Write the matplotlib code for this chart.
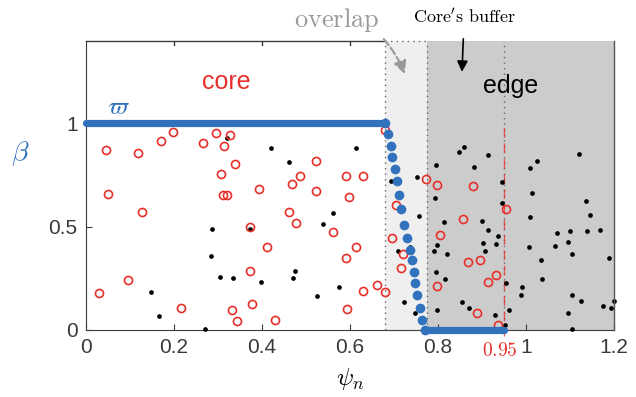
import numpy as np
import matplotlib
matplotlib.use('Agg')
import matplotlib.pyplot as plt

plt.rcParams['mathtext.fontset'] = 'cm'
plt.rcParams['font.family'] = ['Liberation Sans', 'DejaVu Sans']

# region bounds in psi_n
core_end = 0.68
edge_start = 0.775
buffer_psi = 0.95

# black dots (edge markers)
black_x = [0.320, 0.420, 0.286, 0.372, 0.284, 0.305, 0.335, 0.397, 0.148, 0.167, 0.270,
           0.613, 0.461, 0.693, 0.752, 0.795, 0.793, 0.757, 0.815, 0.562, 0.539,
           0.475, 0.470, 0.576, 0.526, 0.710, 0.798, 0.792, 0.820, 0.795, 0.816, 0.723, 0.749, 0.799, 0.736,
           0.859, 0.848, 0.914, 0.883, 1.026, 1.009, 1.121, 0.947, 1.015, 0.947, 1.138, 1.145, 1.009, 0.900,
           0.914, 0.936, 0.903, 0.932, 0.908, 1.071, 1.101, 1.139, 1.168, 1.095, 1.106, 1.066, 1.008, 1.034,
           1.189, 1.036, 0.954, 0.992, 0.989, 1.104, 1.125, 1.200, 1.176, 1.194, 0.855, 0.871, 0.962, 0.930,
           1.095, 1.105, 0.869, 0.952]
black_y = [0.929, 0.883, 0.491, 0.488, 0.356, 0.256, 0.253, 0.230, 0.182, 0.068, 0.006,
           0.883, 0.813, 0.721, 0.741, 0.797, 0.641, 0.552, 0.522, 0.564, 0.511,
           0.285, 0.250, 0.209, 0.164, 0.383, 0.411, 0.382, 0.370, 0.282, 0.245, 0.137, 0.084, 0.097, 0.400,
           0.886, 0.862, 0.845, 0.789, 0.816, 0.784, 0.853, 0.717, 0.665, 0.617, 0.623, 0.556, 0.547, 0.527,
           0.486, 0.456, 0.420, 0.415, 0.380, 0.467, 0.480, 0.477, 0.486, 0.427, 0.369, 0.407, 0.403, 0.340,
           0.346, 0.245, 0.229, 0.209, 0.167, 0.167, 0.139, 0.140, 0.116, 0.105, 0.135, 0.108, 0.097, 0.072,
           0.080, 0.006, 0.006, 0.026]

# red open circles (core markers)
red_x = [0.045, 0.118, 0.170, 0.198, 0.267, 0.295, 0.327, 0.314, 0.339, 0.308, 0.394, 0.051, 0.311, 0.321, 0.128,
         0.372, 0.411, 0.372, 0.095, 0.030, 0.217, 0.332, 0.378, 0.343, 0.430,
         0.523, 0.486, 0.469, 0.591, 0.631, 0.524, 0.598, 0.462, 0.477, 0.680, 0.774, 0.799, 0.705,
         0.562, 0.615, 0.591, 0.697, 0.721, 0.716, 0.661, 0.680, 0.629, 0.594, 0.805, 0.799,
         0.879, 0.955, 0.857, 0.869, 0.896, 0.932, 0.914, 0.889, 0.938]
red_y = [0.870, 0.858, 0.915, 0.958, 0.905, 0.952, 0.942, 0.890, 0.802, 0.757, 0.684, 0.660, 0.652, 0.655, 0.569,
         0.499, 0.403, 0.287, 0.240, 0.177, 0.108, 0.098, 0.127, 0.043, 0.048,
         0.818, 0.744, 0.705, 0.747, 0.744, 0.673, 0.643, 0.569, 0.520, 0.966, 0.733, 0.704, 0.607,
         0.475, 0.403, 0.346, 0.443, 0.370, 0.301, 0.217, 0.182, 0.190, 0.100, 0.462, 0.214,
         0.699, 0.585, 0.535, 0.327, 0.337, 0.266, 0.232, 0.084, 0.023]

# weight curve varpi(psi_n)
w_x = [0.0, 0.680, 0.687, 0.693, 0.697, 0.702, 0.707, 0.712, 0.716, 0.723, 0.731, 0.736,
       0.741, 0.745, 0.748, 0.752, 0.759, 0.765, 0.770, 0.950]
w_y = [1.0, 1.0, 0.947, 0.889, 0.836, 0.778, 0.720, 0.652, 0.585, 0.510, 0.444, 0.386,
       0.338, 0.280, 0.227, 0.169, 0.106, 0.048, 0.0, 0.0]

blue = '#3272bd'
red = '#e8302a'
axc = '#3a3a3a'
dotc = '#666666'

fig = plt.figure(figsize=(6.36, 3.97), dpi=100)
ax = fig.add_axes([0.135, 0.169, 0.830, 0.728])
ax.set_xlim(0, 1.2)
ax.set_ylim(0, 1.4)

ax.axvspan(core_end, edge_start, color='#efefef', zorder=0, lw=0)
ax.axvspan(edge_start, 1.2, color='#cccccc', zorder=0, lw=0)
for xv in [core_end, edge_start, buffer_psi]:
    ax.axvline(xv, color=dotc, ls=(0, (1, 3)), lw=1, zorder=1)
ax.plot([core_end, edge_start], [1.4, 1.4], color=dotc, ls=(0, (1, 3)), lw=1, clip_on=False, zorder=3)
ax.plot([core_end, edge_start], [0, 0], color=dotc, ls=(0, (1, 3)), lw=1, clip_on=False, zorder=3)
ax.plot([0, core_end], [1.4, 1.4], color=axc, lw=1, clip_on=False, zorder=3)

# buffer line in red
ax.plot([buffer_psi, buffer_psi], [-0.03, 1.0], color=red, ls=(0, (7, 4)), lw=1,
        clip_on=False, zorder=2, alpha=0.75)

ax.plot(black_x, black_y, 'o', color='black', ms=3.4, mew=0, zorder=3, clip_on=False)
ax.plot(red_x, red_y, 'o', mfc='none', mec=red, ms=5.8, mew=1.2, zorder=3)

# flat parts as a dense line, transition as separate dots
ax.plot(w_x[:2], w_y[:2], '-', color=blue, lw=5.2, solid_capstyle='round', zorder=4, clip_on=False)
ax.plot(w_x[-2:], w_y[-2:], '-', color=blue, lw=5.2, solid_capstyle='round', zorder=4, clip_on=False)
ax.plot(w_x[1:-1], w_y[1:-1], 'o', color=blue, ms=7, mew=0, zorder=4, clip_on=False)

for s in ['top', 'right']:
    ax.spines[s].set_visible(False)
ax.spines['left'].set_color(axc)
ax.spines['bottom'].set_color(axc)
ax.plot([1.2, 1.2], [0, 1.4], color='#555555', lw=1, clip_on=False, zorder=3)

ax.set_xticks([0, 0.2, 0.4, 0.6, 0.8, 1, 1.2])
ax.set_xticklabels(['0', '0.2', '0.4', '0.6', '0.8', '1', '1.2'])
ax.set_yticks([0, 0.5, 1])
ax.set_yticklabels(['0', '0.5', '1'])
ax.tick_params(direction='in', labelsize=15, colors=axc, length=4, pad=6)
for xt in [0.2, 0.4, 0.6]:
    ax.plot([xt, xt], [1.4, 1.38], color=axc, lw=1, zorder=3)

ax.text(buffer_psi - 0.01, -0.06, r'$0.95$', color=red, fontsize=14, ha='center', va='top')
ax.set_xlabel(r'$\psi_n$', fontsize=18, labelpad=6)
ax.set_ylabel(r'$\beta$', fontsize=20, color=blue, rotation=0, labelpad=22)
ax.yaxis.set_label_coords(-0.125, 0.56)

ax.text(0.32, 1.2, 'core', color=red, fontsize=18, ha='center', va='center')
ax.text(0.965, 1.18, 'edge', color='black', fontsize=18, ha='center', va='center')
ax.text(0.075, 1.08, r'$\varpi$', color=blue, fontsize=18, ha='center', va='center')

ax.annotate(r'$\mathrm{overlap}$', xy=(0.725, 1.24), xytext=(0.57, 1.50),
            fontsize=19, color='#999999', ha='center', va='center', annotation_clip=False,
            arrowprops=dict(arrowstyle='-|>', color='#999999', ls='--', lw=1.5,
                            shrinkA=2, shrinkB=0, connectionstyle='arc3,rad=-0.1',
                            relpos=(1.0, 0.0)))
ax.annotate(r"$\mathrm{Core's\ buffer}$", xy=(0.855, 1.25), xytext=(0.86, 1.51),
            fontsize=13, color='black', ha='center', va='center', annotation_clip=False,
            arrowprops=dict(arrowstyle='-|>', color='black', lw=1.2, shrinkA=6, shrinkB=0,
                            mutation_scale=16))

fig.savefig('out.png', dpi=100)
